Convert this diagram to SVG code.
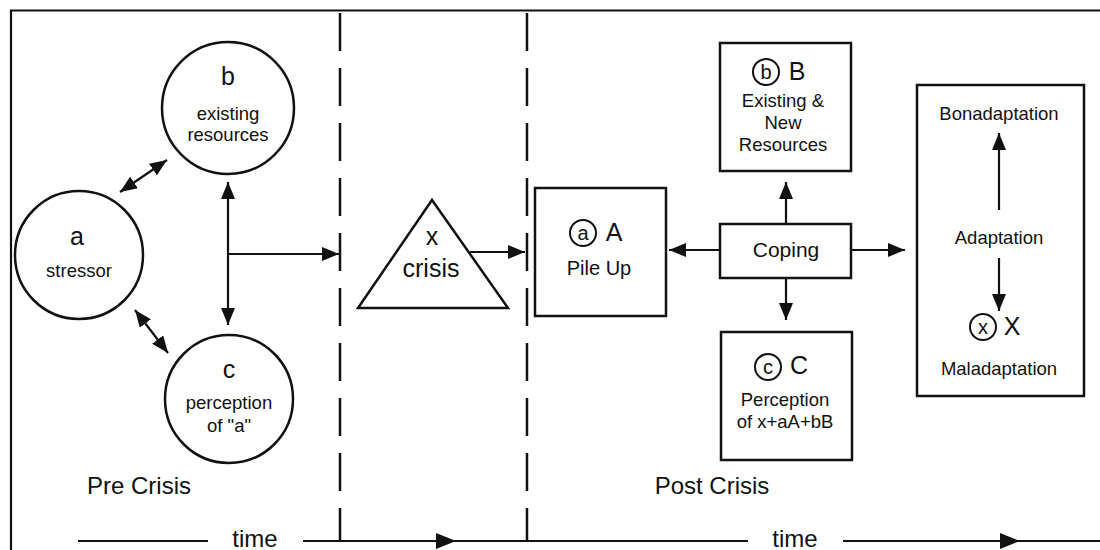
<svg xmlns="http://www.w3.org/2000/svg" width="1100" height="550" viewBox="0 0 1100 550">
<style>
  text { font-family: "Liberation Sans", Arial, sans-serif; fill: #111; text-anchor: middle; }
  .shape { fill: #fff; stroke: #111; stroke-width: 2.5; }
  .ring { fill: none; stroke: #111; stroke-width: 2; }
  .ln { stroke: #111; stroke-width: 2.2; fill: none; }
  .dash { stroke: #111; stroke-width: 2.5; stroke-dasharray: 38 17; fill: none; }
  .big { font-size: 25px; }
  .mid { font-size: 20px; }
  .sm { font-size: 18.5px; }
  .lbl { font-size: 24px; }
</style>
<defs>
  <marker id="ah" markerUnits="userSpaceOnUse" markerWidth="18" markerHeight="14" refX="17" refY="7" orient="auto-start-reverse">
    <path d="M0,0 L17,7 L0,14 z" fill="#111"/>
  </marker>
</defs>
<rect width="1100" height="550" fill="#fff"/>
<g id="frame">
  <path class="ln" d="M11,550 V10.5 H1100"/>
</g>
<g id="dividers">
  <line class="dash" x1="340" y1="13" x2="340" y2="541"/>
  <line class="dash" x1="527" y1="13" x2="527" y2="541"/>
</g>
<g id="time-axis">
  <line class="ln" x1="78" y1="541" x2="208" y2="541"/>
  <text class="lbl" x="255" y="547">time</text>
  <line class="ln" x1="303" y1="541" x2="748" y2="541"/>
  <path d="M436,533 L456,541 L436,549 z" fill="#111"/>
  <text class="lbl" x="795" y="547">time</text>
  <line class="ln" x1="843" y1="541" x2="1100" y2="541"/>
  <path d="M1000,533 L1020,541 L1000,549 z" fill="#111"/>
</g>
<g id="phase-labels">
  <text class="lbl" x="139" y="494">Pre Crisis</text>
  <text class="lbl" x="712" y="494">Post Crisis</text>
</g>
<g id="node-a">
  <circle class="shape" cx="79" cy="255" r="64"/>
  <text class="big" x="77" y="245">a</text>
  <text class="sm" x="79" y="277">stressor</text>
</g>
<g id="node-b">
  <circle class="shape" cx="228" cy="108" r="66"/>
  <text class="big" x="228" y="85">b</text>
  <text class="sm" x="228" y="120">existing</text>
  <text class="sm" x="228" y="141">resources</text>
</g>
<g id="node-c">
  <circle class="shape" cx="229" cy="399" r="64"/>
  <text class="big" x="229" y="378">c</text>
  <text class="sm" x="229" y="409">perception</text>
  <text class="sm" x="229" y="432">of "a"</text>
</g>
<g id="node-x">
  <path class="shape" d="M432,200 L508,308 L358,308 z"/>
  <text class="big" x="432" y="245">x</text>
  <text class="big" x="431" y="277">crisis</text>
</g>
<g id="node-A">
  <rect class="shape" x="535" y="188" width="131" height="128"/>
  <circle class="ring" cx="583" cy="233" r="13"/>
  <text class="mid" x="583" y="240">a</text>
  <text class="big" x="614" y="241">A</text>
  <text class="mid" x="599" y="275">Pile Up</text>
</g>
<g id="node-B">
  <rect class="shape" x="720" y="43" width="131" height="128"/>
  <circle class="ring" cx="766" cy="72" r="13"/>
  <text class="mid" x="766" y="79">b</text>
  <text class="big" x="797" y="80">B</text>
  <text class="sm" x="783" y="107">Existing &amp;</text>
  <text class="sm" x="783" y="129">New</text>
  <text class="sm" x="783" y="151">Resources</text>
</g>
<g id="node-coping">
  <rect class="shape" x="720" y="224" width="131" height="54"/>
  <text style="font-size:21px" x="786" y="257">Coping</text>
</g>
<g id="node-C">
  <rect class="shape" x="721" y="332" width="131" height="128"/>
  <circle class="ring" cx="768" cy="367" r="13"/>
  <text class="mid" x="768" y="374">c</text>
  <text class="big" x="799" y="374">C</text>
  <text class="sm" x="785" y="406">Perception</text>
  <text class="sm" x="785" y="428">of x+aA+bB</text>
</g>
<g id="node-adaptation">
  <rect class="shape" x="917" y="85" width="167" height="311"/>
  <text class="sm" x="999" y="120">Bonadaptation</text>
  <text class="sm" x="999" y="244">Adaptation</text>
  <circle class="ring" cx="983" cy="327" r="13"/>
  <text class="mid" x="983" y="334">x</text>
  <text class="big" x="1012" y="335">X</text>
  <text class="sm" x="999" y="375">Maladaptation</text>
</g>
<g id="connectors">
  <line class="ln" x1="120" y1="192" x2="167" y2="160" marker-start="url(#ah)" marker-end="url(#ah)"/>
  <line class="ln" x1="135" y1="310" x2="168" y2="353" marker-start="url(#ah)" marker-end="url(#ah)"/>
  <line class="ln" x1="228" y1="182" x2="228" y2="325" marker-start="url(#ah)" marker-end="url(#ah)"/>
  <line class="ln" x1="228" y1="254" x2="339" y2="254" marker-end="url(#ah)"/>
  <line class="ln" x1="470" y1="252" x2="525" y2="252" marker-end="url(#ah)"/>
  <line class="ln" x1="720" y1="250" x2="669" y2="250" marker-end="url(#ah)"/>
  <line class="ln" x1="786" y1="224" x2="786" y2="182" marker-end="url(#ah)"/>
  <line class="ln" x1="786" y1="278" x2="786" y2="320" marker-end="url(#ah)"/>
  <line class="ln" x1="851" y1="250" x2="905" y2="250" marker-end="url(#ah)"/>
  <line class="ln" x1="999" y1="210" x2="999" y2="133" marker-end="url(#ah)"/>
  <line class="ln" x1="999" y1="258" x2="999" y2="311" marker-end="url(#ah)"/>
</g>
</svg>
